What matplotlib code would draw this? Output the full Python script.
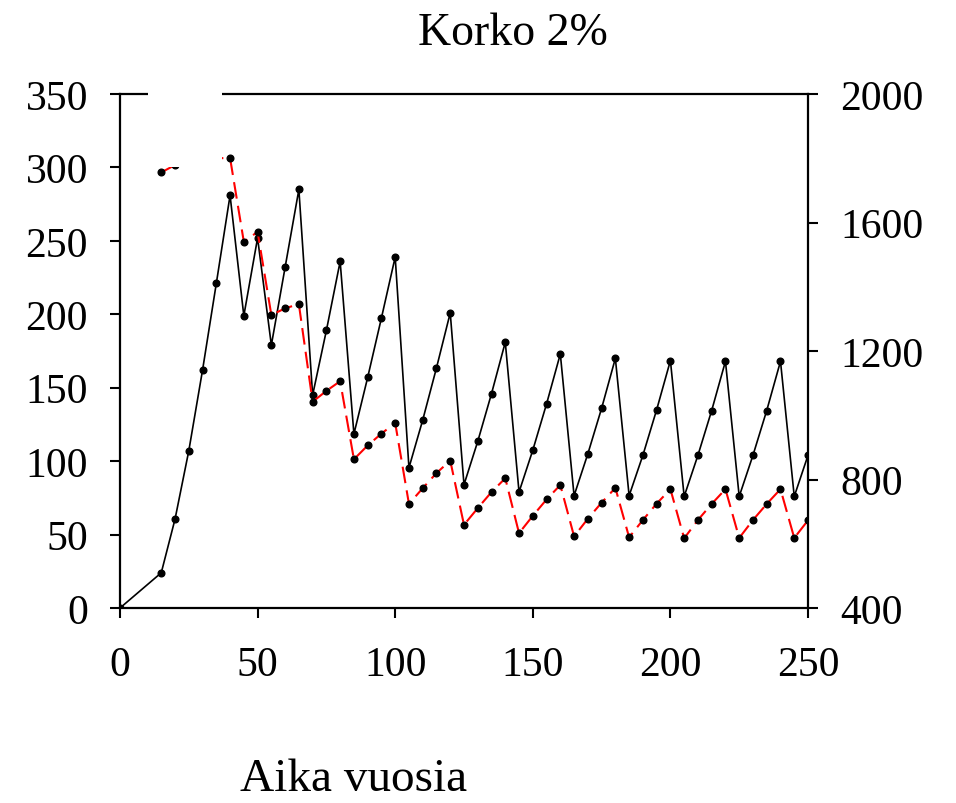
#----------------------------------------------------------
"""
# Korko 2%
Two series over time (years): black on the left axis,
red dashed on the right axis.
"""
#----------------------------------------------------------
import numpy as np
import matplotlib
matplotlib.use('Agg')
import matplotlib.pyplot as plt
import matplotlib.patches as pch


#----------------------------------------------------------
years = [0, 15, 20, 25, 30, 35, 40, 45, 50, 55, 60, 65, 70, 75, 80, 85, 90,
         95, 100, 105, 110, 115, 120, 125, 130, 135, 140, 145, 150, 155, 160,
         165, 170, 175, 180, 185, 190, 195, 200, 205, 210, 215, 220, 225,
         230, 235, 240, 245, 250]

left_series = [0, 24, 60.5, 107, 162, 221, 281, 199, 252, 179, 232, 285,
               145, 189, 236, 118.5, 157, 197.5, 239, 95.5, 128, 163.5, 201,
               84, 113.5, 146, 181, 79, 107.5, 139, 173, 76.5, 105, 136,
               170, 76.5, 104, 135, 168.5, 76, 104, 134.5, 168, 76, 104,
               134.5, 168, 76, 104]

# values at 25-35 sit under the white box in the picture
right_series = [None, 1756, 1779, 1790, 1796, 1800, 1801, 1540, 1571, 1312,
                1333, 1346, 1042, 1076, 1106, 863, 906, 943, 976, 724, 773,
                820, 859, 659, 711, 761, 804, 633, 687, 738, 783, 623, 678,
                728, 774, 620, 674, 725, 770, 617, 674, 724, 770, 618, 674,
                724, 770, 618, 673]

x_ticks = [0, 50, 100, 150, 200, 250]
left_ticks = [0, 50, 100, 150, 200, 250, 300, 350]
right_ticks = [400, 800, 1200, 1600, 2000]

title_text = 'Korko 2%'
xlabel_text = 'Aika vuosia'


def main():
    plt.rcParams['font.family'] = ['Liberation Serif', 'DejaVu Serif']
    fig = plt.figure(figsize=(9.56, 8.04), dpi=100)
    ax = fig.add_axes([0.1255, 0.2425, 0.7197, 0.6393])
    ax2 = ax.twinx()

    ax.plot(years, left_series, color='black', lw=1.2, marker='o',
            markersize=4.8, markerfacecolor='black', markeredgecolor='black')

    right = np.array([np.nan if v is None else v for v in right_series],
                     dtype=float)
    ax2.plot(years, right, color='red', lw=1.5, linestyle=(0, (8, 3.5)),
             marker='o', markersize=4.8, markerfacecolor='black',
             markeredgecolor='black')

    ax.set_xlim(0, 250)
    ax.set_ylim(0, 350)
    ax2.set_ylim(400, 2000)
    ax.set_xticks(x_ticks)
    ax.set_yticks(left_ticks)
    ax2.set_yticks(right_ticks)

    for a in (ax, ax2):
        a.tick_params(direction='out', length=7, width=1.5, labelsize=30,
                      pad=16)
        for s in a.spines.values():
            s.set_linewidth(1.6)
    ax.tick_params(axis='x', pad=20)
    ax2.spines['top'].set_visible(False)
    ax2.spines['left'].set_visible(False)
    ax2.spines['bottom'].set_visible(False)
    ax.spines['right'].set_visible(False)

    # empty white box that hides part of the top of the plot
    r = pch.Rectangle((0.0407, 0.859), 0.1076, 0.2, transform=ax2.transAxes,
                      facecolor='white', edgecolor='none', zorder=10,
                      clip_on=False)
    ax2.add_patch(r)

    fig.text(0.5366, 1 - 45 / 804, title_text, fontsize=33, ha='center',
             va='baseline')
    fig.text(354 / 956, 1 - 791 / 804, xlabel_text, fontsize=34,
             ha='center', va='baseline')

    fig.savefig('out.png', dpi=100)


#----------------------------------------------------------
if __name__ == '__main__':
    main()
